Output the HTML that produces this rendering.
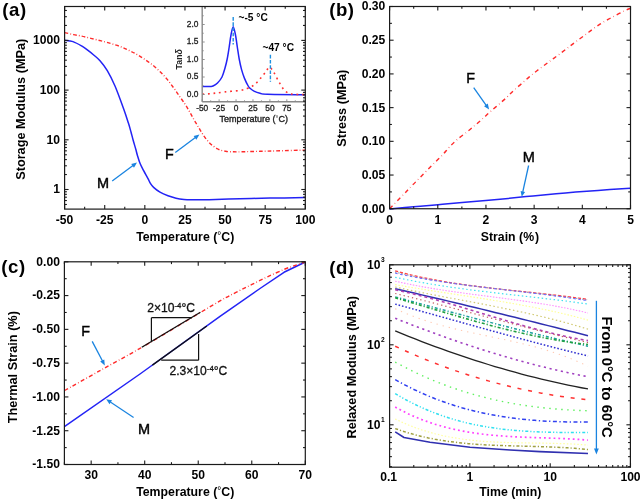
<!DOCTYPE html>
<html><head><meta charset="utf-8"><style>
html,body{margin:0;padding:0;background:#fff;}
svg{display:block;filter:blur(0.3px);}
text{font-family:"Liberation Sans",sans-serif;}
</style></head><body>
<svg width="641" height="500" viewBox="0 0 641 500">
<rect width="641" height="500" fill="#fff"/>
<path d="M64.60,40.20 C66.00,40.43 70.10,40.60 73.00,41.60 C75.90,42.60 79.50,44.73 82.00,46.20 C84.50,47.67 86.00,48.90 88.00,50.40 C90.00,51.90 92.00,53.47 94.00,55.20 C96.00,56.93 97.78,58.23 100.00,60.80 C102.22,63.37 104.80,66.40 107.30,70.60 C109.80,74.80 112.27,79.60 115.00,86.00 C117.73,92.40 121.47,102.82 123.70,109.00 C125.93,115.18 127.18,119.27 128.40,123.10 C129.62,126.93 130.22,129.18 131.00,132.00 C131.78,134.82 132.30,137.12 133.10,140.00 C133.90,142.88 135.10,146.80 135.80,149.30 C136.50,151.80 136.60,152.67 137.30,155.00 C138.00,157.33 138.97,160.73 140.00,163.30 C141.03,165.87 142.17,167.85 143.50,170.40 C144.83,172.95 146.85,176.43 148.00,178.60 C149.15,180.77 149.47,181.93 150.40,183.40 C151.33,184.87 152.00,185.93 153.60,187.40 C155.20,188.87 157.60,190.80 160.00,192.20 C162.40,193.60 165.33,194.80 168.00,195.80 C170.67,196.80 173.33,197.60 176.00,198.20 C178.67,198.80 181.33,199.15 184.00,199.40 C186.67,199.65 187.80,199.65 192.00,199.70 C196.20,199.75 201.20,199.87 209.20,199.70 C217.20,199.53 229.87,198.97 240.00,198.70 C250.13,198.43 259.12,198.28 270.00,198.10 C280.88,197.92 299.42,197.68 305.30,197.60" stroke="#2323f5" stroke-width="1.5" fill="none" stroke-linejoin="round" />
<path d="M64.60,32.60 C66.08,32.93 70.65,34.02 73.50,34.60 C76.35,35.18 79.07,35.53 81.70,36.10 C84.33,36.67 86.77,37.38 89.30,38.00 C91.83,38.62 94.27,39.15 96.90,39.80 C99.53,40.45 102.45,41.18 105.10,41.90 C107.75,42.62 110.15,43.28 112.80,44.10 C115.45,44.92 118.27,45.73 121.00,46.80 C123.73,47.87 126.57,49.23 129.20,50.50 C131.83,51.77 134.27,52.95 136.80,54.40 C139.33,55.85 141.80,57.47 144.40,59.20 C147.00,60.93 149.73,62.67 152.40,64.80 C155.07,66.93 157.93,69.57 160.40,72.00 C162.87,74.43 165.00,76.77 167.20,79.40 C169.40,82.03 171.60,85.07 173.60,87.80 C175.60,90.53 177.33,93.13 179.20,95.80 C181.07,98.47 183.10,101.20 184.80,103.80 C186.50,106.40 187.90,108.80 189.40,111.40 C190.90,114.00 192.27,116.73 193.80,119.40 C195.33,122.07 197.00,124.77 198.60,127.40 C200.20,130.03 201.53,132.57 203.40,135.20 C205.27,137.83 207.40,140.90 209.80,143.20 C212.20,145.50 215.17,147.65 217.80,149.00 C220.43,150.35 223.00,150.83 225.60,151.30 C228.20,151.77 230.80,151.72 233.40,151.80 C236.00,151.88 236.77,151.88 241.20,151.80 C245.63,151.72 253.53,151.47 260.00,151.30 C266.47,151.13 272.45,151.00 280.00,150.80 C287.55,150.60 301.08,150.22 305.30,150.10" stroke="#ff2a2a" stroke-width="1.4" fill="none" stroke-dasharray="3.7 2.1 0.8 2.1" stroke-linejoin="round" />
<rect x="202.20" y="6.50" width="103.10" height="95.30" fill="#fff"/>
<path d="M202.40,86.50 C203.67,86.48 208.23,86.48 210.00,86.40 C211.77,86.32 211.75,86.57 213.00,86.00 C214.25,85.43 216.00,84.50 217.50,83.00 C219.00,81.50 220.75,79.50 222.00,77.00 C223.25,74.50 224.13,71.00 225.00,68.00 C225.87,65.00 226.50,62.50 227.20,59.00 C227.90,55.50 228.57,51.00 229.20,47.00 C229.83,43.00 230.33,38.38 231.00,35.00 C231.67,31.62 232.45,26.70 233.20,26.70 C233.95,26.70 234.82,31.62 235.50,35.00 C236.18,38.38 236.68,43.00 237.30,47.00 C237.92,51.00 238.50,55.27 239.20,59.00 C239.90,62.73 240.62,66.17 241.50,69.40 C242.38,72.63 243.38,75.63 244.50,78.40 C245.62,81.17 247.28,84.37 248.20,86.00 C249.12,87.63 249.03,87.35 250.00,88.20 C250.97,89.05 252.33,90.25 254.00,91.10 C255.67,91.95 257.75,92.77 260.00,93.30 C262.25,93.83 259.95,94.05 267.50,94.30 C275.05,94.55 299.00,94.72 305.30,94.80" stroke="#2323f5" stroke-width="1.5" fill="none" stroke-linejoin="round" />
<path d="M202.40,94.30 C204.17,94.15 209.23,93.80 213.00,93.40 C216.77,93.00 220.50,92.40 225.00,91.90 C229.50,91.40 236.33,90.95 240.00,90.40 C243.67,89.85 245.10,89.23 247.00,88.60 C248.90,87.97 250.00,87.37 251.40,86.60 C252.80,85.83 253.83,85.43 255.40,84.00 C256.97,82.57 259.07,80.05 260.80,78.00 C262.53,75.95 264.37,73.50 265.80,71.70 C267.23,69.90 268.13,67.20 269.40,67.20 C270.67,67.20 272.13,69.83 273.40,71.70 C274.67,73.57 275.80,76.23 277.00,78.40 C278.20,80.57 279.40,82.75 280.60,84.70 C281.80,86.65 282.85,88.67 284.20,90.10 C285.55,91.53 287.05,92.60 288.70,93.30 C290.35,94.00 291.33,94.08 294.10,94.30 C296.87,94.52 303.43,94.55 305.30,94.60" stroke="#ff3030" stroke-width="1.6" fill="none" stroke-dasharray="1.8 3.8" stroke-linejoin="round" />
<line x1="233.20" y1="17.10" x2="233.20" y2="44.50" stroke="#1e90e0" stroke-width="1.4" stroke-dasharray="3.6 1.6"/>
<line x1="270.40" y1="54.80" x2="270.40" y2="81.80" stroke="#1e90e0" stroke-width="1.4" stroke-dasharray="3.6 1.6"/>
<line x1="202.20" y1="6.50" x2="202.20" y2="101.80" stroke="#888" stroke-width="1.4" />
<line x1="202.20" y1="101.80" x2="305.30" y2="101.80" stroke="#888" stroke-width="1.4" />
<line x1="202.20" y1="101.80" x2="202.20" y2="99.30" stroke="#888" stroke-width="0.9" />
<text x="202.20" y="111.20" font-size="8.4" font-weight="normal" text-anchor="middle" fill="#222" stroke="#222" stroke-width="0.3">-50</text>
<line x1="219.12" y1="101.80" x2="219.12" y2="99.30" stroke="#888" stroke-width="0.9" />
<text x="219.12" y="111.20" font-size="8.4" font-weight="normal" text-anchor="middle" fill="#222" stroke="#222" stroke-width="0.3">-25</text>
<line x1="236.05" y1="101.80" x2="236.05" y2="99.30" stroke="#888" stroke-width="0.9" />
<text x="236.05" y="111.20" font-size="8.4" font-weight="normal" text-anchor="middle" fill="#222" stroke="#222" stroke-width="0.3">0</text>
<line x1="252.97" y1="101.80" x2="252.97" y2="99.30" stroke="#888" stroke-width="0.9" />
<text x="252.97" y="111.20" font-size="8.4" font-weight="normal" text-anchor="middle" fill="#222" stroke="#222" stroke-width="0.3">25</text>
<line x1="269.90" y1="101.80" x2="269.90" y2="99.30" stroke="#888" stroke-width="0.9" />
<text x="269.90" y="111.20" font-size="8.4" font-weight="normal" text-anchor="middle" fill="#222" stroke="#222" stroke-width="0.3">50</text>
<line x1="286.82" y1="101.80" x2="286.82" y2="99.30" stroke="#888" stroke-width="0.9" />
<text x="286.82" y="111.20" font-size="8.4" font-weight="normal" text-anchor="middle" fill="#222" stroke="#222" stroke-width="0.3">75</text>
<line x1="303.75" y1="101.80" x2="303.75" y2="99.30" stroke="#888" stroke-width="0.9" />
<line x1="210.66" y1="101.80" x2="210.66" y2="100.30" stroke="#888" stroke-width="0.9" />
<line x1="227.59" y1="101.80" x2="227.59" y2="100.30" stroke="#888" stroke-width="0.9" />
<line x1="244.51" y1="101.80" x2="244.51" y2="100.30" stroke="#888" stroke-width="0.9" />
<line x1="261.44" y1="101.80" x2="261.44" y2="100.30" stroke="#888" stroke-width="0.9" />
<line x1="278.36" y1="101.80" x2="278.36" y2="100.30" stroke="#888" stroke-width="0.9" />
<line x1="295.29" y1="101.80" x2="295.29" y2="100.30" stroke="#888" stroke-width="0.9" />
<line x1="202.20" y1="94.50" x2="204.70" y2="94.50" stroke="#888" stroke-width="0.9" />
<text x="198.40" y="96.60" font-size="8.4" font-weight="normal" text-anchor="end" fill="#222" stroke="#222" stroke-width="0.3">0.0</text>
<line x1="202.20" y1="77.00" x2="204.70" y2="77.00" stroke="#888" stroke-width="0.9" />
<text x="198.40" y="79.10" font-size="8.4" font-weight="normal" text-anchor="end" fill="#222" stroke="#222" stroke-width="0.3">0.5</text>
<line x1="202.20" y1="59.50" x2="204.70" y2="59.50" stroke="#888" stroke-width="0.9" />
<text x="198.40" y="61.60" font-size="8.4" font-weight="normal" text-anchor="end" fill="#222" stroke="#222" stroke-width="0.3">1.0</text>
<line x1="202.20" y1="42.00" x2="204.70" y2="42.00" stroke="#888" stroke-width="0.9" />
<text x="198.40" y="44.10" font-size="8.4" font-weight="normal" text-anchor="end" fill="#222" stroke="#222" stroke-width="0.3">1.5</text>
<line x1="202.20" y1="24.50" x2="204.70" y2="24.50" stroke="#888" stroke-width="0.9" />
<text x="198.40" y="26.60" font-size="8.4" font-weight="normal" text-anchor="end" fill="#222" stroke="#222" stroke-width="0.3">2.0</text>
<line x1="202.20" y1="85.75" x2="203.70" y2="85.75" stroke="#888" stroke-width="0.9" />
<line x1="202.20" y1="68.25" x2="203.70" y2="68.25" stroke="#888" stroke-width="0.9" />
<line x1="202.20" y1="50.75" x2="203.70" y2="50.75" stroke="#888" stroke-width="0.9" />
<line x1="202.20" y1="33.25" x2="203.70" y2="33.25" stroke="#888" stroke-width="0.9" />
<line x1="202.20" y1="15.75" x2="203.70" y2="15.75" stroke="#888" stroke-width="0.9" />
<text x="253.80" y="122.00" font-size="9" font-weight="normal" text-anchor="middle" fill="#222" stroke="#222" stroke-width="0.35">Temperature (<tspan dy="-1.3" font-size="7.5" stroke-width="0">°</tspan><tspan dy="1.3">C)</tspan></text>
<text x="182.20" y="59.20" font-size="8.8" font-weight="bold" text-anchor="middle" fill="#222" transform="rotate(-90 182.20 59.20)" >Tan<tspan font-style="italic">δ</tspan></text>
<text x="238.50" y="20.80" font-size="10.2" font-weight="bold" text-anchor="start" fill="#000" >~-5 °C</text>
<text x="262.50" y="50.90" font-size="10.2" font-weight="bold" text-anchor="start" fill="#000" >~47 °C</text>
<rect x="64.60" y="6.50" width="240.70" height="202.60" stroke="#1a1a1a" stroke-width="1.2" fill="none"/>
<line x1="64.60" y1="209.10" x2="64.60" y2="205.10" stroke="#1a1a1a" stroke-width="1.1" />
<line x1="64.60" y1="6.50" x2="64.60" y2="10.50" stroke="#1a1a1a" stroke-width="1.1" />
<text x="64.60" y="223.70" font-size="12.1" font-weight="bold" text-anchor="middle" fill="#000" >-50</text>
<line x1="104.72" y1="209.10" x2="104.72" y2="205.10" stroke="#1a1a1a" stroke-width="1.1" />
<line x1="104.72" y1="6.50" x2="104.72" y2="10.50" stroke="#1a1a1a" stroke-width="1.1" />
<text x="104.72" y="223.70" font-size="12.1" font-weight="bold" text-anchor="middle" fill="#000" >-25</text>
<line x1="144.83" y1="209.10" x2="144.83" y2="205.10" stroke="#1a1a1a" stroke-width="1.1" />
<line x1="144.83" y1="6.50" x2="144.83" y2="10.50" stroke="#1a1a1a" stroke-width="1.1" />
<text x="144.83" y="223.70" font-size="12.1" font-weight="bold" text-anchor="middle" fill="#000" >0</text>
<line x1="184.95" y1="209.10" x2="184.95" y2="205.10" stroke="#1a1a1a" stroke-width="1.1" />
<line x1="184.95" y1="6.50" x2="184.95" y2="10.50" stroke="#1a1a1a" stroke-width="1.1" />
<text x="184.95" y="223.70" font-size="12.1" font-weight="bold" text-anchor="middle" fill="#000" >25</text>
<line x1="225.07" y1="209.10" x2="225.07" y2="205.10" stroke="#1a1a1a" stroke-width="1.1" />
<line x1="225.07" y1="6.50" x2="225.07" y2="10.50" stroke="#1a1a1a" stroke-width="1.1" />
<text x="225.07" y="223.70" font-size="12.1" font-weight="bold" text-anchor="middle" fill="#000" >50</text>
<line x1="265.18" y1="209.10" x2="265.18" y2="205.10" stroke="#1a1a1a" stroke-width="1.1" />
<line x1="265.18" y1="6.50" x2="265.18" y2="10.50" stroke="#1a1a1a" stroke-width="1.1" />
<text x="265.18" y="223.70" font-size="12.1" font-weight="bold" text-anchor="middle" fill="#000" >75</text>
<line x1="305.30" y1="209.10" x2="305.30" y2="205.10" stroke="#1a1a1a" stroke-width="1.1" />
<line x1="305.30" y1="6.50" x2="305.30" y2="10.50" stroke="#1a1a1a" stroke-width="1.1" />
<text x="305.30" y="223.70" font-size="12.1" font-weight="bold" text-anchor="middle" fill="#000" >100</text>
<line x1="84.66" y1="209.10" x2="84.66" y2="206.80" stroke="#1a1a1a" stroke-width="1.1" />
<line x1="84.66" y1="6.50" x2="84.66" y2="8.80" stroke="#1a1a1a" stroke-width="1.1" />
<line x1="124.77" y1="209.10" x2="124.77" y2="206.80" stroke="#1a1a1a" stroke-width="1.1" />
<line x1="124.77" y1="6.50" x2="124.77" y2="8.80" stroke="#1a1a1a" stroke-width="1.1" />
<line x1="164.89" y1="209.10" x2="164.89" y2="206.80" stroke="#1a1a1a" stroke-width="1.1" />
<line x1="164.89" y1="6.50" x2="164.89" y2="8.80" stroke="#1a1a1a" stroke-width="1.1" />
<line x1="205.01" y1="209.10" x2="205.01" y2="206.80" stroke="#1a1a1a" stroke-width="1.1" />
<line x1="205.01" y1="6.50" x2="205.01" y2="8.80" stroke="#1a1a1a" stroke-width="1.1" />
<line x1="245.13" y1="209.10" x2="245.13" y2="206.80" stroke="#1a1a1a" stroke-width="1.1" />
<line x1="245.13" y1="6.50" x2="245.13" y2="8.80" stroke="#1a1a1a" stroke-width="1.1" />
<line x1="285.24" y1="209.10" x2="285.24" y2="206.80" stroke="#1a1a1a" stroke-width="1.1" />
<line x1="285.24" y1="6.50" x2="285.24" y2="8.80" stroke="#1a1a1a" stroke-width="1.1" />
<line x1="64.60" y1="189.50" x2="68.60" y2="189.50" stroke="#1a1a1a" stroke-width="1.1" />
<line x1="305.30" y1="189.50" x2="301.30" y2="189.50" stroke="#1a1a1a" stroke-width="1.1" />
<text x="59.90" y="193.40" font-size="12.1" font-weight="bold" text-anchor="end" fill="#000" >1</text>
<line x1="64.60" y1="139.80" x2="68.60" y2="139.80" stroke="#1a1a1a" stroke-width="1.1" />
<line x1="305.30" y1="139.80" x2="301.30" y2="139.80" stroke="#1a1a1a" stroke-width="1.1" />
<text x="59.90" y="143.70" font-size="12.1" font-weight="bold" text-anchor="end" fill="#000" >10</text>
<line x1="64.60" y1="90.10" x2="68.60" y2="90.10" stroke="#1a1a1a" stroke-width="1.1" />
<line x1="305.30" y1="90.10" x2="301.30" y2="90.10" stroke="#1a1a1a" stroke-width="1.1" />
<text x="59.90" y="94.00" font-size="12.1" font-weight="bold" text-anchor="end" fill="#000" >100</text>
<line x1="64.60" y1="40.40" x2="68.60" y2="40.40" stroke="#1a1a1a" stroke-width="1.1" />
<line x1="305.30" y1="40.40" x2="301.30" y2="40.40" stroke="#1a1a1a" stroke-width="1.1" />
<text x="59.90" y="44.30" font-size="12.1" font-weight="bold" text-anchor="end" fill="#000" >1000</text>
<line x1="64.60" y1="204.46" x2="66.90" y2="204.46" stroke="#1a1a1a" stroke-width="1.1" />
<line x1="305.30" y1="204.46" x2="303.00" y2="204.46" stroke="#1a1a1a" stroke-width="1.1" />
<line x1="64.60" y1="200.53" x2="66.90" y2="200.53" stroke="#1a1a1a" stroke-width="1.1" />
<line x1="305.30" y1="200.53" x2="303.00" y2="200.53" stroke="#1a1a1a" stroke-width="1.1" />
<line x1="64.60" y1="197.20" x2="66.90" y2="197.20" stroke="#1a1a1a" stroke-width="1.1" />
<line x1="305.30" y1="197.20" x2="303.00" y2="197.20" stroke="#1a1a1a" stroke-width="1.1" />
<line x1="64.60" y1="194.32" x2="66.90" y2="194.32" stroke="#1a1a1a" stroke-width="1.1" />
<line x1="305.30" y1="194.32" x2="303.00" y2="194.32" stroke="#1a1a1a" stroke-width="1.1" />
<line x1="64.60" y1="191.77" x2="66.90" y2="191.77" stroke="#1a1a1a" stroke-width="1.1" />
<line x1="305.30" y1="191.77" x2="303.00" y2="191.77" stroke="#1a1a1a" stroke-width="1.1" />
<line x1="64.60" y1="174.54" x2="66.90" y2="174.54" stroke="#1a1a1a" stroke-width="1.1" />
<line x1="305.30" y1="174.54" x2="303.00" y2="174.54" stroke="#1a1a1a" stroke-width="1.1" />
<line x1="64.60" y1="165.79" x2="66.90" y2="165.79" stroke="#1a1a1a" stroke-width="1.1" />
<line x1="305.30" y1="165.79" x2="303.00" y2="165.79" stroke="#1a1a1a" stroke-width="1.1" />
<line x1="64.60" y1="159.58" x2="66.90" y2="159.58" stroke="#1a1a1a" stroke-width="1.1" />
<line x1="305.30" y1="159.58" x2="303.00" y2="159.58" stroke="#1a1a1a" stroke-width="1.1" />
<line x1="64.60" y1="154.76" x2="66.90" y2="154.76" stroke="#1a1a1a" stroke-width="1.1" />
<line x1="305.30" y1="154.76" x2="303.00" y2="154.76" stroke="#1a1a1a" stroke-width="1.1" />
<line x1="64.60" y1="150.83" x2="66.90" y2="150.83" stroke="#1a1a1a" stroke-width="1.1" />
<line x1="305.30" y1="150.83" x2="303.00" y2="150.83" stroke="#1a1a1a" stroke-width="1.1" />
<line x1="64.60" y1="147.50" x2="66.90" y2="147.50" stroke="#1a1a1a" stroke-width="1.1" />
<line x1="305.30" y1="147.50" x2="303.00" y2="147.50" stroke="#1a1a1a" stroke-width="1.1" />
<line x1="64.60" y1="144.62" x2="66.90" y2="144.62" stroke="#1a1a1a" stroke-width="1.1" />
<line x1="305.30" y1="144.62" x2="303.00" y2="144.62" stroke="#1a1a1a" stroke-width="1.1" />
<line x1="64.60" y1="142.07" x2="66.90" y2="142.07" stroke="#1a1a1a" stroke-width="1.1" />
<line x1="305.30" y1="142.07" x2="303.00" y2="142.07" stroke="#1a1a1a" stroke-width="1.1" />
<line x1="64.60" y1="124.84" x2="66.90" y2="124.84" stroke="#1a1a1a" stroke-width="1.1" />
<line x1="305.30" y1="124.84" x2="303.00" y2="124.84" stroke="#1a1a1a" stroke-width="1.1" />
<line x1="64.60" y1="116.09" x2="66.90" y2="116.09" stroke="#1a1a1a" stroke-width="1.1" />
<line x1="305.30" y1="116.09" x2="303.00" y2="116.09" stroke="#1a1a1a" stroke-width="1.1" />
<line x1="64.60" y1="109.88" x2="66.90" y2="109.88" stroke="#1a1a1a" stroke-width="1.1" />
<line x1="305.30" y1="109.88" x2="303.00" y2="109.88" stroke="#1a1a1a" stroke-width="1.1" />
<line x1="64.60" y1="105.06" x2="66.90" y2="105.06" stroke="#1a1a1a" stroke-width="1.1" />
<line x1="305.30" y1="105.06" x2="303.00" y2="105.06" stroke="#1a1a1a" stroke-width="1.1" />
<line x1="64.60" y1="101.13" x2="66.90" y2="101.13" stroke="#1a1a1a" stroke-width="1.1" />
<line x1="305.30" y1="101.13" x2="303.00" y2="101.13" stroke="#1a1a1a" stroke-width="1.1" />
<line x1="64.60" y1="97.80" x2="66.90" y2="97.80" stroke="#1a1a1a" stroke-width="1.1" />
<line x1="305.30" y1="97.80" x2="303.00" y2="97.80" stroke="#1a1a1a" stroke-width="1.1" />
<line x1="64.60" y1="94.92" x2="66.90" y2="94.92" stroke="#1a1a1a" stroke-width="1.1" />
<line x1="305.30" y1="94.92" x2="303.00" y2="94.92" stroke="#1a1a1a" stroke-width="1.1" />
<line x1="64.60" y1="92.37" x2="66.90" y2="92.37" stroke="#1a1a1a" stroke-width="1.1" />
<line x1="305.30" y1="92.37" x2="303.00" y2="92.37" stroke="#1a1a1a" stroke-width="1.1" />
<line x1="64.60" y1="75.14" x2="66.90" y2="75.14" stroke="#1a1a1a" stroke-width="1.1" />
<line x1="305.30" y1="75.14" x2="303.00" y2="75.14" stroke="#1a1a1a" stroke-width="1.1" />
<line x1="64.60" y1="66.39" x2="66.90" y2="66.39" stroke="#1a1a1a" stroke-width="1.1" />
<line x1="305.30" y1="66.39" x2="303.00" y2="66.39" stroke="#1a1a1a" stroke-width="1.1" />
<line x1="64.60" y1="60.18" x2="66.90" y2="60.18" stroke="#1a1a1a" stroke-width="1.1" />
<line x1="305.30" y1="60.18" x2="303.00" y2="60.18" stroke="#1a1a1a" stroke-width="1.1" />
<line x1="64.60" y1="55.36" x2="66.90" y2="55.36" stroke="#1a1a1a" stroke-width="1.1" />
<line x1="305.30" y1="55.36" x2="303.00" y2="55.36" stroke="#1a1a1a" stroke-width="1.1" />
<line x1="64.60" y1="51.43" x2="66.90" y2="51.43" stroke="#1a1a1a" stroke-width="1.1" />
<line x1="305.30" y1="51.43" x2="303.00" y2="51.43" stroke="#1a1a1a" stroke-width="1.1" />
<line x1="64.60" y1="48.10" x2="66.90" y2="48.10" stroke="#1a1a1a" stroke-width="1.1" />
<line x1="305.30" y1="48.10" x2="303.00" y2="48.10" stroke="#1a1a1a" stroke-width="1.1" />
<line x1="64.60" y1="45.22" x2="66.90" y2="45.22" stroke="#1a1a1a" stroke-width="1.1" />
<line x1="305.30" y1="45.22" x2="303.00" y2="45.22" stroke="#1a1a1a" stroke-width="1.1" />
<line x1="64.60" y1="42.67" x2="66.90" y2="42.67" stroke="#1a1a1a" stroke-width="1.1" />
<line x1="305.30" y1="42.67" x2="303.00" y2="42.67" stroke="#1a1a1a" stroke-width="1.1" />
<line x1="64.60" y1="25.44" x2="66.90" y2="25.44" stroke="#1a1a1a" stroke-width="1.1" />
<line x1="305.30" y1="25.44" x2="303.00" y2="25.44" stroke="#1a1a1a" stroke-width="1.1" />
<line x1="64.60" y1="16.69" x2="66.90" y2="16.69" stroke="#1a1a1a" stroke-width="1.1" />
<line x1="305.30" y1="16.69" x2="303.00" y2="16.69" stroke="#1a1a1a" stroke-width="1.1" />
<line x1="64.60" y1="10.48" x2="66.90" y2="10.48" stroke="#1a1a1a" stroke-width="1.1" />
<line x1="305.30" y1="10.48" x2="303.00" y2="10.48" stroke="#1a1a1a" stroke-width="1.1" />
<text x="185.20" y="241.20" font-size="12.3" font-weight="bold" text-anchor="middle" fill="#000" >Temperature (<tspan dy="-1.8" font-size="10" font-weight="normal">°</tspan><tspan dy="1.8">C)</tspan></text>
<text x="24.90" y="109.30" font-size="12.7" font-weight="bold" text-anchor="middle" fill="#000" transform="rotate(-90 24.90 109.30)" >Storage Modulus (MPa)</text>
<text x="2.30" y="16.00" font-size="18.6" font-weight="bold" text-anchor="start" fill="#000" letter-spacing="0.55">(a)</text>
<line x1="112.20" y1="181.10" x2="132.99" y2="165.59" stroke="#1a84e0" stroke-width="1.3" />
<path d="M137.00,162.60 L133.97,167.73 L131.22,164.05 Z" fill="#1a84e0"/>
<line x1="175.30" y1="152.60" x2="195.40" y2="137.50" stroke="#1a84e0" stroke-width="1.3" />
<path d="M199.40,134.50 L196.38,139.64 L193.62,135.96 Z" fill="#1a84e0"/>
<text x="103.10" y="187.60" font-size="14.5" font-weight="normal" text-anchor="middle" fill="#000" stroke="#000" stroke-width="0.42">M</text>
<text x="169.30" y="159.00" font-size="14.3" font-weight="normal" text-anchor="middle" fill="#000" stroke="#000" stroke-width="0.42">F</text>
<path d="M389.60,208.80 C392.00,206.33 400.30,197.83 404.00,194.00 C407.70,190.17 409.20,188.47 411.80,185.80 C414.40,183.13 417.00,180.63 419.60,178.00 C422.20,175.37 424.80,172.63 427.40,170.00 C430.00,167.37 432.60,164.80 435.20,162.20 C437.80,159.60 440.53,157.03 443.00,154.40 C445.47,151.77 447.57,148.93 450.00,146.40 C452.43,143.87 454.70,141.67 457.60,139.20 C460.50,136.73 464.48,133.93 467.40,131.60 C470.32,129.27 472.53,127.37 475.10,125.20 C477.67,123.03 480.35,120.78 482.80,118.60 C485.25,116.42 487.23,114.38 489.80,112.10 C492.37,109.82 495.40,107.33 498.20,104.90 C501.00,102.47 504.05,99.88 506.60,97.50 C509.15,95.12 510.95,92.95 513.50,90.60 C516.05,88.25 519.22,85.73 521.90,83.40 C524.58,81.07 527.03,78.75 529.60,76.60 C532.17,74.45 534.62,72.55 537.30,70.50 C539.98,68.45 543.02,66.28 545.70,64.30 C548.38,62.32 550.72,60.58 553.40,58.60 C556.08,56.62 559.12,54.42 561.80,52.40 C564.48,50.38 566.95,48.43 569.50,46.50 C572.05,44.57 574.48,42.73 577.10,40.80 C579.72,38.87 582.58,36.85 585.20,34.90 C587.82,32.95 590.27,30.93 592.80,29.10 C595.33,27.27 597.78,25.55 600.40,23.90 C603.02,22.25 605.78,20.72 608.50,19.20 C611.22,17.68 613.98,16.22 616.70,14.80 C619.42,13.38 622.55,11.77 624.80,10.70 C627.05,9.63 629.30,8.78 630.20,8.40" stroke="#ff2a2a" stroke-width="1.4" fill="none" stroke-dasharray="4.2 3.2 0.5 3.2" stroke-linejoin="round" />
<path d="M389.60,209.00 C393.60,208.63 405.53,207.52 413.60,206.80 C421.67,206.08 429.43,205.45 438.00,204.70 C446.57,203.95 454.67,203.20 465.00,202.30 C475.33,201.40 488.67,200.37 500.00,199.30 C511.33,198.23 522.08,196.97 533.00,195.90 C543.92,194.83 554.67,193.82 565.50,192.90 C576.33,191.98 587.22,191.17 598.00,190.40 C608.78,189.63 624.83,188.65 630.20,188.30" stroke="#2323f5" stroke-width="1.5" fill="none" stroke-linejoin="round" />
<rect x="389.60" y="6.50" width="240.90" height="202.25" stroke="#1a1a1a" stroke-width="1.2" fill="none"/>
<line x1="389.60" y1="208.75" x2="389.60" y2="204.75" stroke="#1a1a1a" stroke-width="1.1" />
<line x1="389.60" y1="6.50" x2="389.60" y2="10.50" stroke="#1a1a1a" stroke-width="1.1" />
<text x="389.60" y="223.70" font-size="12.1" font-weight="bold" text-anchor="middle" fill="#000" >0</text>
<line x1="437.78" y1="208.75" x2="437.78" y2="204.75" stroke="#1a1a1a" stroke-width="1.1" />
<line x1="437.78" y1="6.50" x2="437.78" y2="10.50" stroke="#1a1a1a" stroke-width="1.1" />
<text x="437.78" y="223.70" font-size="12.1" font-weight="bold" text-anchor="middle" fill="#000" >1</text>
<line x1="485.96" y1="208.75" x2="485.96" y2="204.75" stroke="#1a1a1a" stroke-width="1.1" />
<line x1="485.96" y1="6.50" x2="485.96" y2="10.50" stroke="#1a1a1a" stroke-width="1.1" />
<text x="485.96" y="223.70" font-size="12.1" font-weight="bold" text-anchor="middle" fill="#000" >2</text>
<line x1="534.14" y1="208.75" x2="534.14" y2="204.75" stroke="#1a1a1a" stroke-width="1.1" />
<line x1="534.14" y1="6.50" x2="534.14" y2="10.50" stroke="#1a1a1a" stroke-width="1.1" />
<text x="534.14" y="223.70" font-size="12.1" font-weight="bold" text-anchor="middle" fill="#000" >3</text>
<line x1="582.32" y1="208.75" x2="582.32" y2="204.75" stroke="#1a1a1a" stroke-width="1.1" />
<line x1="582.32" y1="6.50" x2="582.32" y2="10.50" stroke="#1a1a1a" stroke-width="1.1" />
<text x="582.32" y="223.70" font-size="12.1" font-weight="bold" text-anchor="middle" fill="#000" >4</text>
<line x1="630.50" y1="208.75" x2="630.50" y2="204.75" stroke="#1a1a1a" stroke-width="1.1" />
<line x1="630.50" y1="6.50" x2="630.50" y2="10.50" stroke="#1a1a1a" stroke-width="1.1" />
<text x="630.50" y="223.70" font-size="12.1" font-weight="bold" text-anchor="middle" fill="#000" >5</text>
<line x1="413.69" y1="208.75" x2="413.69" y2="206.45" stroke="#1a1a1a" stroke-width="1.1" />
<line x1="413.69" y1="6.50" x2="413.69" y2="8.80" stroke="#1a1a1a" stroke-width="1.1" />
<line x1="461.87" y1="208.75" x2="461.87" y2="206.45" stroke="#1a1a1a" stroke-width="1.1" />
<line x1="461.87" y1="6.50" x2="461.87" y2="8.80" stroke="#1a1a1a" stroke-width="1.1" />
<line x1="510.05" y1="208.75" x2="510.05" y2="206.45" stroke="#1a1a1a" stroke-width="1.1" />
<line x1="510.05" y1="6.50" x2="510.05" y2="8.80" stroke="#1a1a1a" stroke-width="1.1" />
<line x1="558.23" y1="208.75" x2="558.23" y2="206.45" stroke="#1a1a1a" stroke-width="1.1" />
<line x1="558.23" y1="6.50" x2="558.23" y2="8.80" stroke="#1a1a1a" stroke-width="1.1" />
<line x1="606.41" y1="208.75" x2="606.41" y2="206.45" stroke="#1a1a1a" stroke-width="1.1" />
<line x1="606.41" y1="6.50" x2="606.41" y2="8.80" stroke="#1a1a1a" stroke-width="1.1" />
<line x1="389.60" y1="208.75" x2="393.60" y2="208.75" stroke="#1a1a1a" stroke-width="1.1" />
<line x1="630.50" y1="208.75" x2="626.50" y2="208.75" stroke="#1a1a1a" stroke-width="1.1" />
<text x="385.30" y="212.65" font-size="12.1" font-weight="bold" text-anchor="end" fill="#000" >0.00</text>
<line x1="389.60" y1="175.04" x2="393.60" y2="175.04" stroke="#1a1a1a" stroke-width="1.1" />
<line x1="630.50" y1="175.04" x2="626.50" y2="175.04" stroke="#1a1a1a" stroke-width="1.1" />
<text x="385.30" y="178.94" font-size="12.1" font-weight="bold" text-anchor="end" fill="#000" >0.05</text>
<line x1="389.60" y1="141.33" x2="393.60" y2="141.33" stroke="#1a1a1a" stroke-width="1.1" />
<line x1="630.50" y1="141.33" x2="626.50" y2="141.33" stroke="#1a1a1a" stroke-width="1.1" />
<text x="385.30" y="145.23" font-size="12.1" font-weight="bold" text-anchor="end" fill="#000" >0.10</text>
<line x1="389.60" y1="107.63" x2="393.60" y2="107.63" stroke="#1a1a1a" stroke-width="1.1" />
<line x1="630.50" y1="107.63" x2="626.50" y2="107.63" stroke="#1a1a1a" stroke-width="1.1" />
<text x="385.30" y="111.53" font-size="12.1" font-weight="bold" text-anchor="end" fill="#000" >0.15</text>
<line x1="389.60" y1="73.92" x2="393.60" y2="73.92" stroke="#1a1a1a" stroke-width="1.1" />
<line x1="630.50" y1="73.92" x2="626.50" y2="73.92" stroke="#1a1a1a" stroke-width="1.1" />
<text x="385.30" y="77.82" font-size="12.1" font-weight="bold" text-anchor="end" fill="#000" >0.20</text>
<line x1="389.60" y1="40.21" x2="393.60" y2="40.21" stroke="#1a1a1a" stroke-width="1.1" />
<line x1="630.50" y1="40.21" x2="626.50" y2="40.21" stroke="#1a1a1a" stroke-width="1.1" />
<text x="385.30" y="44.11" font-size="12.1" font-weight="bold" text-anchor="end" fill="#000" >0.25</text>
<line x1="389.60" y1="6.50" x2="393.60" y2="6.50" stroke="#1a1a1a" stroke-width="1.1" />
<line x1="630.50" y1="6.50" x2="626.50" y2="6.50" stroke="#1a1a1a" stroke-width="1.1" />
<text x="385.30" y="10.40" font-size="12.1" font-weight="bold" text-anchor="end" fill="#000" >0.30</text>
<line x1="389.60" y1="191.90" x2="391.90" y2="191.90" stroke="#1a1a1a" stroke-width="1.1" />
<line x1="630.50" y1="191.90" x2="628.20" y2="191.90" stroke="#1a1a1a" stroke-width="1.1" />
<line x1="389.60" y1="158.19" x2="391.90" y2="158.19" stroke="#1a1a1a" stroke-width="1.1" />
<line x1="630.50" y1="158.19" x2="628.20" y2="158.19" stroke="#1a1a1a" stroke-width="1.1" />
<line x1="389.60" y1="124.48" x2="391.90" y2="124.48" stroke="#1a1a1a" stroke-width="1.1" />
<line x1="630.50" y1="124.48" x2="628.20" y2="124.48" stroke="#1a1a1a" stroke-width="1.1" />
<line x1="389.60" y1="90.77" x2="391.90" y2="90.77" stroke="#1a1a1a" stroke-width="1.1" />
<line x1="630.50" y1="90.77" x2="628.20" y2="90.77" stroke="#1a1a1a" stroke-width="1.1" />
<line x1="389.60" y1="57.06" x2="391.90" y2="57.06" stroke="#1a1a1a" stroke-width="1.1" />
<line x1="630.50" y1="57.06" x2="628.20" y2="57.06" stroke="#1a1a1a" stroke-width="1.1" />
<line x1="389.60" y1="23.35" x2="391.90" y2="23.35" stroke="#1a1a1a" stroke-width="1.1" />
<line x1="630.50" y1="23.35" x2="628.20" y2="23.35" stroke="#1a1a1a" stroke-width="1.1" />
<text x="510.00" y="241.20" font-size="12.3" font-weight="bold" text-anchor="middle" fill="#000" >Strain (%&#8202;)</text>
<text x="346.00" y="108.20" font-size="12.7" font-weight="bold" text-anchor="middle" fill="#000" transform="rotate(-90 346.00 108.20)" >Stress (MPa)</text>
<text x="329.20" y="16.00" font-size="18.6" font-weight="bold" text-anchor="start" fill="#000" letter-spacing="0.55">(b)</text>
<line x1="473.70" y1="87.70" x2="486.21" y2="105.32" stroke="#1a84e0" stroke-width="1.3" />
<path d="M489.10,109.40 L484.04,106.25 L487.79,103.58 Z" fill="#1a84e0"/>
<line x1="528.60" y1="165.50" x2="522.78" y2="191.92" stroke="#1a84e0" stroke-width="1.3" />
<path d="M521.70,196.80 L520.64,190.93 L525.13,191.92 Z" fill="#1a84e0"/>
<text x="470.50" y="83.30" font-size="14.3" font-weight="normal" text-anchor="middle" fill="#000" stroke="#000" stroke-width="0.42">F</text>
<text x="528.70" y="161.80" font-size="14.5" font-weight="normal" text-anchor="middle" fill="#000" stroke="#000" stroke-width="0.42">M</text>
<path d="M64.40,426.70 L140.00,374.00 L220.00,316.40 L260.00,288.50 L284.00,272.30 L305.30,262.00" stroke="#2323f5" stroke-width="1.5" fill="none" stroke-linejoin="round" />
<path d="M64.60,390.50 C70.50,387.18 87.43,377.62 100.00,370.60 C112.57,363.58 126.67,356.05 140.00,348.40 C153.33,340.75 166.67,332.62 180.00,324.70 C193.33,316.78 210.67,306.28 220.00,300.90 C229.33,295.52 230.67,295.15 236.00,292.40 C241.33,289.65 246.67,287.03 252.00,284.40 C257.33,281.77 262.67,279.10 268.00,276.60 C273.33,274.10 279.47,271.27 284.00,269.40 C288.53,267.53 291.65,266.63 295.20,265.40 C298.75,264.17 303.62,262.57 305.30,262.00" stroke="#ff2a2a" stroke-width="1.4" fill="none" stroke-dasharray="4 2.3 0.7 2.3" stroke-linejoin="round" />
<line x1="151.40" y1="317.70" x2="151.40" y2="341.50" stroke="#111" stroke-width="1.2" />
<line x1="151.40" y1="317.70" x2="192.00" y2="317.70" stroke="#111" stroke-width="1.2" />
<line x1="141.80" y1="347.30" x2="200.40" y2="312.20" stroke="#111" stroke-width="1.3" />
<line x1="161.20" y1="360.20" x2="198.60" y2="360.20" stroke="#111" stroke-width="1.2" />
<line x1="198.60" y1="334.00" x2="198.60" y2="360.20" stroke="#111" stroke-width="1.2" />
<line x1="152.40" y1="365.10" x2="206.80" y2="326.00" stroke="#111" stroke-width="1.3" />
<text x="147.20" y="311.70" font-size="12.1" font-weight="normal" text-anchor="start" fill="#111" stroke="#111" stroke-width="0.3">2×10<tspan dy="-3.3" font-size="7.8">-4</tspan><tspan dy="3.3">°C</tspan></text>
<text x="169.50" y="374.70" font-size="12.1" font-weight="normal" text-anchor="start" fill="#111" stroke="#111" stroke-width="0.3">2.3×10<tspan dy="-3.3" font-size="7.8">-4</tspan><tspan dy="3.3">°C</tspan></text>
<rect x="64.40" y="261.80" width="240.90" height="202.70" stroke="#1a1a1a" stroke-width="1.2" fill="none"/>
<line x1="91.17" y1="464.50" x2="91.17" y2="460.50" stroke="#1a1a1a" stroke-width="1.1" />
<line x1="91.17" y1="261.80" x2="91.17" y2="265.80" stroke="#1a1a1a" stroke-width="1.1" />
<text x="91.17" y="479.10" font-size="12.1" font-weight="bold" text-anchor="middle" fill="#000" >30</text>
<line x1="144.70" y1="464.50" x2="144.70" y2="460.50" stroke="#1a1a1a" stroke-width="1.1" />
<line x1="144.70" y1="261.80" x2="144.70" y2="265.80" stroke="#1a1a1a" stroke-width="1.1" />
<text x="144.70" y="479.10" font-size="12.1" font-weight="bold" text-anchor="middle" fill="#000" >40</text>
<line x1="198.23" y1="464.50" x2="198.23" y2="460.50" stroke="#1a1a1a" stroke-width="1.1" />
<line x1="198.23" y1="261.80" x2="198.23" y2="265.80" stroke="#1a1a1a" stroke-width="1.1" />
<text x="198.23" y="479.10" font-size="12.1" font-weight="bold" text-anchor="middle" fill="#000" >50</text>
<line x1="251.77" y1="464.50" x2="251.77" y2="460.50" stroke="#1a1a1a" stroke-width="1.1" />
<line x1="251.77" y1="261.80" x2="251.77" y2="265.80" stroke="#1a1a1a" stroke-width="1.1" />
<text x="251.77" y="479.10" font-size="12.1" font-weight="bold" text-anchor="middle" fill="#000" >60</text>
<line x1="305.30" y1="464.50" x2="305.30" y2="460.50" stroke="#1a1a1a" stroke-width="1.1" />
<line x1="305.30" y1="261.80" x2="305.30" y2="265.80" stroke="#1a1a1a" stroke-width="1.1" />
<text x="305.30" y="479.10" font-size="12.1" font-weight="bold" text-anchor="middle" fill="#000" >70</text>
<line x1="64.40" y1="464.50" x2="64.40" y2="462.20" stroke="#1a1a1a" stroke-width="1.1" />
<line x1="64.40" y1="261.80" x2="64.40" y2="264.10" stroke="#1a1a1a" stroke-width="1.1" />
<line x1="117.93" y1="464.50" x2="117.93" y2="462.20" stroke="#1a1a1a" stroke-width="1.1" />
<line x1="117.93" y1="261.80" x2="117.93" y2="264.10" stroke="#1a1a1a" stroke-width="1.1" />
<line x1="171.47" y1="464.50" x2="171.47" y2="462.20" stroke="#1a1a1a" stroke-width="1.1" />
<line x1="171.47" y1="261.80" x2="171.47" y2="264.10" stroke="#1a1a1a" stroke-width="1.1" />
<line x1="225.00" y1="464.50" x2="225.00" y2="462.20" stroke="#1a1a1a" stroke-width="1.1" />
<line x1="225.00" y1="261.80" x2="225.00" y2="264.10" stroke="#1a1a1a" stroke-width="1.1" />
<line x1="278.53" y1="464.50" x2="278.53" y2="462.20" stroke="#1a1a1a" stroke-width="1.1" />
<line x1="278.53" y1="261.80" x2="278.53" y2="264.10" stroke="#1a1a1a" stroke-width="1.1" />
<line x1="64.40" y1="261.80" x2="68.40" y2="261.80" stroke="#1a1a1a" stroke-width="1.1" />
<line x1="305.30" y1="261.80" x2="301.30" y2="261.80" stroke="#1a1a1a" stroke-width="1.1" />
<text x="59.90" y="265.70" font-size="12.1" font-weight="bold" text-anchor="end" fill="#000" >0.00</text>
<line x1="64.40" y1="295.58" x2="68.40" y2="295.58" stroke="#1a1a1a" stroke-width="1.1" />
<line x1="305.30" y1="295.58" x2="301.30" y2="295.58" stroke="#1a1a1a" stroke-width="1.1" />
<text x="59.90" y="299.48" font-size="12.1" font-weight="bold" text-anchor="end" fill="#000" >-0.25</text>
<line x1="64.40" y1="329.37" x2="68.40" y2="329.37" stroke="#1a1a1a" stroke-width="1.1" />
<line x1="305.30" y1="329.37" x2="301.30" y2="329.37" stroke="#1a1a1a" stroke-width="1.1" />
<text x="59.90" y="333.27" font-size="12.1" font-weight="bold" text-anchor="end" fill="#000" >-0.50</text>
<line x1="64.40" y1="363.15" x2="68.40" y2="363.15" stroke="#1a1a1a" stroke-width="1.1" />
<line x1="305.30" y1="363.15" x2="301.30" y2="363.15" stroke="#1a1a1a" stroke-width="1.1" />
<text x="59.90" y="367.05" font-size="12.1" font-weight="bold" text-anchor="end" fill="#000" >-0.75</text>
<line x1="64.40" y1="396.93" x2="68.40" y2="396.93" stroke="#1a1a1a" stroke-width="1.1" />
<line x1="305.30" y1="396.93" x2="301.30" y2="396.93" stroke="#1a1a1a" stroke-width="1.1" />
<text x="59.90" y="400.83" font-size="12.1" font-weight="bold" text-anchor="end" fill="#000" >-1.00</text>
<line x1="64.40" y1="430.72" x2="68.40" y2="430.72" stroke="#1a1a1a" stroke-width="1.1" />
<line x1="305.30" y1="430.72" x2="301.30" y2="430.72" stroke="#1a1a1a" stroke-width="1.1" />
<text x="59.90" y="434.62" font-size="12.1" font-weight="bold" text-anchor="end" fill="#000" >-1.25</text>
<line x1="64.40" y1="464.50" x2="68.40" y2="464.50" stroke="#1a1a1a" stroke-width="1.1" />
<line x1="305.30" y1="464.50" x2="301.30" y2="464.50" stroke="#1a1a1a" stroke-width="1.1" />
<text x="59.90" y="468.40" font-size="12.1" font-weight="bold" text-anchor="end" fill="#000" >-1.50</text>
<line x1="64.40" y1="278.69" x2="66.70" y2="278.69" stroke="#1a1a1a" stroke-width="1.1" />
<line x1="305.30" y1="278.69" x2="303.00" y2="278.69" stroke="#1a1a1a" stroke-width="1.1" />
<line x1="64.40" y1="312.48" x2="66.70" y2="312.48" stroke="#1a1a1a" stroke-width="1.1" />
<line x1="305.30" y1="312.48" x2="303.00" y2="312.48" stroke="#1a1a1a" stroke-width="1.1" />
<line x1="64.40" y1="346.26" x2="66.70" y2="346.26" stroke="#1a1a1a" stroke-width="1.1" />
<line x1="305.30" y1="346.26" x2="303.00" y2="346.26" stroke="#1a1a1a" stroke-width="1.1" />
<line x1="64.40" y1="380.04" x2="66.70" y2="380.04" stroke="#1a1a1a" stroke-width="1.1" />
<line x1="305.30" y1="380.04" x2="303.00" y2="380.04" stroke="#1a1a1a" stroke-width="1.1" />
<line x1="64.40" y1="413.83" x2="66.70" y2="413.83" stroke="#1a1a1a" stroke-width="1.1" />
<line x1="305.30" y1="413.83" x2="303.00" y2="413.83" stroke="#1a1a1a" stroke-width="1.1" />
<line x1="64.40" y1="447.61" x2="66.70" y2="447.61" stroke="#1a1a1a" stroke-width="1.1" />
<line x1="305.30" y1="447.61" x2="303.00" y2="447.61" stroke="#1a1a1a" stroke-width="1.1" />
<text x="185.20" y="496.00" font-size="12.3" font-weight="bold" text-anchor="middle" fill="#000" >Temperature (<tspan dy="-1.8" font-size="10" font-weight="normal">°</tspan><tspan dy="1.8">C)</tspan></text>
<text x="16.80" y="367.20" font-size="12.7" font-weight="bold" text-anchor="middle" fill="#000" transform="rotate(-90 16.80 367.20)" >Thermal Strain (%)</text>
<text x="1.30" y="273.00" font-size="18.6" font-weight="bold" text-anchor="start" fill="#000" letter-spacing="0.55">(c)</text>
<line x1="92.20" y1="341.40" x2="102.48" y2="360.97" stroke="#1a84e0" stroke-width="1.3" />
<path d="M104.80,365.40 L100.21,361.60 L104.28,359.46 Z" fill="#1a84e0"/>
<line x1="133.60" y1="417.50" x2="110.36" y2="401.98" stroke="#1a84e0" stroke-width="1.3" />
<path d="M106.20,399.20 L112.05,400.34 L109.50,404.17 Z" fill="#1a84e0"/>
<text x="85.70" y="336.30" font-size="14.3" font-weight="normal" text-anchor="middle" fill="#000" stroke="#000" stroke-width="0.42">F</text>
<text x="144.10" y="433.80" font-size="14.5" font-weight="normal" text-anchor="middle" fill="#000" stroke="#000" stroke-width="0.42">M</text>
<path d="M395.20,272.05 L401.85,273.65 L408.50,275.16 L415.14,276.58 L421.79,277.92 L428.44,279.17 L435.09,280.36 L441.74,281.47 L448.39,282.53 L455.03,283.53 L461.68,284.47 L468.33,285.38 L474.98,286.24 L481.63,287.06 L488.28,287.86 L494.92,288.63 L501.57,289.39 L508.22,290.13 L514.87,290.87 L521.52,291.60 L528.17,292.34 L534.81,293.08 L541.46,293.84 L548.11,294.62 L554.76,295.43 L561.41,296.27 L568.06,297.14 L574.70,298.05 L581.35,299.02 L588.00,300.03" stroke="#9a9aa8" stroke-width="1.2" fill="none" stroke-dasharray="1.3 1.8" stroke-linejoin="round" stroke-linecap="butt"/>
<path d="M395.20,270.88 L401.85,272.65 L408.50,274.32 L415.14,275.87 L421.79,277.33 L428.44,278.69 L435.09,279.96 L441.74,281.16 L448.39,282.27 L455.03,283.32 L461.68,284.31 L468.33,285.24 L474.98,286.12 L481.63,286.96 L488.28,287.76 L494.92,288.52 L501.57,289.27 L508.22,289.99 L514.87,290.70 L521.52,291.40 L528.17,292.11 L534.81,292.82 L541.46,293.54 L548.11,294.28 L554.76,295.04 L561.41,295.84 L568.06,296.67 L574.70,297.55 L581.35,298.48 L588.00,299.46" stroke="#ff4040" stroke-width="1.2" fill="none" stroke-dasharray="3 2" stroke-linejoin="round" stroke-linecap="butt"/>
<path d="M395.20,273.20 L401.85,274.63 L408.50,275.98 L415.14,277.25 L421.79,278.46 L428.44,279.60 L435.09,280.69 L441.74,281.72 L448.39,282.71 L455.03,283.65 L461.68,284.56 L468.33,285.43 L474.98,286.27 L481.63,287.09 L488.28,287.88 L494.92,288.67 L501.57,289.44 L508.22,290.21 L514.87,290.98 L521.52,291.75 L528.17,292.54 L534.81,293.33 L541.46,294.15 L548.11,294.99 L554.76,295.86 L561.41,296.76 L568.06,297.70 L574.70,298.69 L581.35,299.72 L588.00,300.80" stroke="#7070ff" stroke-width="1.2" fill="none" stroke-dasharray="2.5 2.5" stroke-linejoin="round" stroke-linecap="butt"/>
<path d="M395.20,277.31 L401.85,278.71 L408.50,280.04 L415.14,281.31 L421.79,282.52 L428.44,283.67 L435.09,284.76 L441.74,285.80 L448.39,286.80 L455.03,287.76 L461.68,288.67 L468.33,289.56 L474.98,290.41 L481.63,291.23 L488.28,292.04 L494.92,292.82 L501.57,293.59 L508.22,294.35 L514.87,295.10 L521.52,295.85 L528.17,296.60 L534.81,297.36 L541.46,298.12 L548.11,298.90 L554.76,299.69 L561.41,300.51 L568.06,301.35 L574.70,302.21 L581.35,303.12 L588.00,304.05" stroke="#40e0f0" stroke-width="1.2" fill="none" stroke-dasharray="1.5 2.5" stroke-linejoin="round" stroke-linecap="butt"/>
<path d="M395.20,281.17 L401.85,282.65 L408.50,284.05 L415.14,285.36 L421.79,286.60 L428.44,287.77 L435.09,288.88 L441.74,289.93 L448.39,290.93 L455.03,291.90 L461.68,292.83 L468.33,293.73 L474.98,294.61 L481.63,295.47 L488.28,296.33 L494.92,297.19 L501.57,298.05 L508.22,298.93 L514.87,299.83 L521.52,300.75 L528.17,301.71 L534.81,302.71 L541.46,303.76 L548.11,304.85 L554.76,306.01 L561.41,307.24 L568.06,308.54 L574.70,309.93 L581.35,311.40 L588.00,312.97" stroke="#ff90ff" stroke-width="1.1" fill="none" stroke-dasharray="1.5 1.5" stroke-linejoin="round" stroke-linecap="butt"/>
<path d="M395.20,284.64 L401.85,285.82 L408.50,286.97 L415.14,288.08 L421.79,289.16 L428.44,290.22 L435.09,291.26 L441.74,292.29 L448.39,293.31 L455.03,294.31 L461.68,295.32 L468.33,296.33 L474.98,297.35 L481.63,298.38 L488.28,299.43 L494.92,300.50 L501.57,301.59 L508.22,302.71 L514.87,303.87 L521.52,305.07 L528.17,306.31 L534.81,307.59 L541.46,308.93 L548.11,310.33 L554.76,311.78 L561.41,313.31 L568.06,314.90 L574.70,316.56 L581.35,318.31 L588.00,320.14" stroke="#ffff90" stroke-width="1.1" fill="none" stroke-dasharray="1.5 1.8" stroke-linejoin="round" stroke-linecap="butt"/>
<path d="M395.20,287.01 L401.85,288.45 L408.50,289.85 L415.14,291.21 L421.79,292.55 L428.44,293.86 L435.09,295.15 L441.74,296.42 L448.39,297.68 L455.03,298.93 L461.68,300.17 L468.33,301.42 L474.98,302.68 L481.63,303.94 L488.28,305.22 L494.92,306.52 L501.57,307.84 L508.22,309.19 L514.87,310.57 L521.52,311.99 L528.17,313.45 L534.81,314.95 L541.46,316.51 L548.11,318.12 L554.76,319.79 L561.41,321.52 L568.06,323.32 L574.70,325.19 L581.35,327.14 L588.00,329.17" stroke="#d0c870" stroke-width="1.2" fill="none" stroke-dasharray="1.5 2.5" stroke-linejoin="round" stroke-linecap="butt"/>
<path d="M395.20,288.79 L401.85,290.29 L408.50,291.80 L415.14,293.33 L421.79,294.87 L428.44,296.41 L435.09,297.97 L441.74,299.54 L448.39,301.12 L455.03,302.70 L461.68,304.30 L468.33,305.90 L474.98,307.52 L481.63,309.14 L488.28,310.76 L494.92,312.40 L501.57,314.04 L508.22,315.68 L514.87,317.33 L521.52,318.98 L528.17,320.64 L534.81,322.30 L541.46,323.97 L548.11,325.64 L554.76,327.30 L561.41,328.98 L568.06,330.65 L574.70,332.32 L581.35,333.99 L588.00,335.67" stroke="#3030b0" stroke-width="1.5" fill="none" stroke-linejoin="round" stroke-linecap="butt"/>
<path d="M395.20,289.81 L401.85,291.24 L408.50,292.75 L415.14,294.36 L421.79,296.03 L428.44,297.78 L435.09,299.58 L441.74,301.44 L448.39,303.35 L455.03,305.29 L461.68,307.27 L468.33,309.26 L474.98,311.28 L481.63,313.30 L488.28,315.32 L494.92,317.34 L501.57,319.34 L508.22,321.32 L514.87,323.27 L521.52,325.18 L528.17,327.05 L534.81,328.87 L541.46,330.62 L548.11,332.32 L554.76,333.93 L561.41,335.47 L568.06,336.91 L574.70,338.26 L581.35,339.51 L588.00,340.64" stroke="#b040b0" stroke-width="1.6" fill="none" stroke-dasharray="3 3" stroke-linejoin="round" stroke-linecap="butt"/>
<path d="M395.20,293.48 L401.85,295.09 L408.50,296.73 L415.14,298.38 L421.79,300.05 L428.44,301.74 L435.09,303.44 L441.74,305.16 L448.39,306.89 L455.03,308.62 L461.68,310.37 L468.33,312.12 L474.98,313.88 L481.63,315.63 L488.28,317.39 L494.92,319.15 L501.57,320.90 L508.22,322.65 L514.87,324.39 L521.52,326.13 L528.17,327.85 L534.81,329.56 L541.46,331.26 L548.11,332.94 L554.76,334.61 L561.41,336.25 L568.06,337.88 L574.70,339.48 L581.35,341.06 L588.00,342.61" stroke="#c06060" stroke-width="1.2" fill="none" stroke-dasharray="1.3 3" stroke-linejoin="round" stroke-linecap="butt"/>
<path d="M395.20,296.87 L401.85,298.69 L408.50,300.52 L415.14,302.33 L421.79,304.15 L428.44,305.96 L435.09,307.76 L441.74,309.55 L448.39,311.34 L455.03,313.12 L461.68,314.89 L468.33,316.65 L474.98,318.41 L481.63,320.15 L488.28,321.88 L494.92,323.60 L501.57,325.31 L508.22,327.00 L514.87,328.68 L521.52,330.35 L528.17,332.01 L534.81,333.65 L541.46,335.27 L548.11,336.88 L554.76,338.47 L561.41,340.05 L568.06,341.60 L574.70,343.14 L581.35,344.66 L588.00,346.16" stroke="#20a0a0" stroke-width="1.5" fill="none" stroke-dasharray="3 2 1.2 2" stroke-linejoin="round" stroke-linecap="butt"/>
<path d="M395.20,297.78 L401.85,299.74 L408.50,301.71 L415.14,303.69 L421.79,305.67 L428.44,307.66 L435.09,309.63 L441.74,311.60 L448.39,313.55 L455.03,315.49 L461.68,317.40 L468.33,319.29 L474.98,321.16 L481.63,322.98 L488.28,324.78 L494.92,326.53 L501.57,328.23 L508.22,329.89 L514.87,331.49 L521.52,333.04 L528.17,334.52 L534.81,335.94 L541.46,337.29 L548.11,338.57 L554.76,339.77 L561.41,340.89 L568.06,341.92 L574.70,342.87 L581.35,343.72 L588.00,344.48" stroke="#20a040" stroke-width="1.6" fill="none" stroke-dasharray="3 2 1.2 2" stroke-linejoin="round" stroke-linecap="butt"/>
<path d="M395.20,304.12 L401.85,305.92 L408.50,307.74 L415.14,309.56 L421.79,311.40 L428.44,313.23 L435.09,315.08 L441.74,316.92 L448.39,318.77 L455.03,320.62 L461.68,322.47 L468.33,324.32 L474.98,326.17 L481.63,328.01 L488.28,329.85 L494.92,331.68 L501.57,333.50 L508.22,335.32 L514.87,337.12 L521.52,338.92 L528.17,340.70 L534.81,342.46 L541.46,344.21 L548.11,345.95 L554.76,347.67 L561.41,349.37 L568.06,351.04 L574.70,352.70 L581.35,354.33 L588.00,355.94" stroke="#3030d0" stroke-width="1.5" fill="none" stroke-dasharray="1.6 1.9" stroke-linejoin="round" stroke-linecap="butt"/>
<path d="M395.20,308.70 L401.85,311.69 L408.50,314.45 L415.14,317.00 L421.79,319.35 L428.44,321.54 L435.09,323.57 L441.74,325.45 L448.39,327.22 L455.03,328.88 L461.68,330.45 L468.33,331.95 L474.98,333.40 L481.63,334.80 L488.28,336.19 L494.92,337.58 L501.57,338.98 L508.22,340.42 L514.87,341.90 L521.52,343.45 L528.17,345.08 L534.81,346.81 L541.46,348.66 L548.11,350.64 L554.76,352.78 L561.41,355.09 L568.06,357.58 L574.70,360.27 L581.35,363.19 L588.00,366.34" stroke="#ffc8b0" stroke-width="1.1" fill="none" stroke-dasharray="1.3 5" stroke-linejoin="round" stroke-linecap="butt"/>
<path d="M395.20,318.26 L401.85,320.90 L408.50,323.51 L415.14,326.08 L421.79,328.61 L428.44,331.10 L435.09,333.55 L441.74,335.95 L448.39,338.31 L455.03,340.63 L461.68,342.90 L468.33,345.13 L474.98,347.32 L481.63,349.45 L488.28,351.54 L494.92,353.58 L501.57,355.58 L508.22,357.52 L514.87,359.41 L521.52,361.26 L528.17,363.05 L534.81,364.79 L541.46,366.47 L548.11,368.11 L554.76,369.69 L561.41,371.21 L568.06,372.68 L574.70,374.09 L581.35,375.45 L588.00,376.74" stroke="#a040c0" stroke-width="1.6" fill="none" stroke-dasharray="2.2 3.6" stroke-linejoin="round" stroke-linecap="butt"/>
<path d="M395.20,330.95 L401.85,333.67 L408.50,336.34 L415.14,338.96 L421.79,341.53 L428.44,344.06 L435.09,346.53 L441.74,348.96 L448.39,351.33 L455.03,353.66 L461.68,355.93 L468.33,358.15 L474.98,360.32 L481.63,362.44 L488.28,364.50 L494.92,366.52 L501.57,368.48 L508.22,370.38 L514.87,372.24 L521.52,374.03 L528.17,375.78 L534.81,377.47 L541.46,379.10 L548.11,380.68 L554.76,382.21 L561.41,383.67 L568.06,385.08 L574.70,386.44 L581.35,387.74 L588.00,388.98" stroke="#222" stroke-width="1.3" fill="none" stroke-linejoin="round" stroke-linecap="butt"/>
<path d="M395.20,346.22 L401.85,349.29 L408.50,352.27 L415.14,355.16 L421.79,357.95 L428.44,360.65 L435.09,363.25 L441.74,365.77 L448.39,368.19 L455.03,370.53 L461.68,372.78 L468.33,374.94 L474.98,377.01 L481.63,379.00 L488.28,380.90 L494.92,382.71 L501.57,384.45 L508.22,386.10 L514.87,387.67 L521.52,389.16 L528.17,390.57 L534.81,391.90 L541.46,393.16 L548.11,394.34 L554.76,395.44 L561.41,396.46 L568.06,397.41 L574.70,398.29 L581.35,399.10 L588.00,399.83" stroke="#ff3030" stroke-width="1.5" fill="none" stroke-dasharray="4 6.8" stroke-linejoin="round" stroke-linecap="butt"/>
<path d="M395.20,362.11 L401.85,365.70 L408.50,369.12 L415.14,372.37 L421.79,375.47 L428.44,378.40 L435.09,381.18 L441.74,383.81 L448.39,386.30 L455.03,388.64 L461.68,390.84 L468.33,392.90 L474.98,394.83 L481.63,396.63 L488.28,398.30 L494.92,399.86 L501.57,401.29 L508.22,402.61 L514.87,403.82 L521.52,404.92 L528.17,405.91 L534.81,406.80 L541.46,407.60 L548.11,408.30 L554.76,408.92 L561.41,409.44 L568.06,409.89 L574.70,410.25 L581.35,410.54 L588.00,410.75" stroke="#60f060" stroke-width="1.4" fill="none" stroke-dasharray="1.5 4.5" stroke-linejoin="round" stroke-linecap="butt"/>
<path d="M395.20,379.60 L401.85,383.30 L408.50,386.78 L415.14,390.05 L421.79,393.12 L428.44,396.00 L435.09,398.69 L441.74,401.19 L448.39,403.52 L455.03,405.67 L461.68,407.66 L468.33,409.49 L474.98,411.17 L481.63,412.69 L488.28,414.08 L494.92,415.34 L501.57,416.46 L508.22,417.46 L514.87,418.34 L521.52,419.12 L528.17,419.79 L534.81,420.36 L541.46,420.83 L548.11,421.22 L554.76,421.53 L561.41,421.77 L568.06,421.93 L574.70,422.04 L581.35,422.09 L588.00,422.08" stroke="#3040f0" stroke-width="1.5" fill="none" stroke-dasharray="4 2.5 1.3 2.5" stroke-linejoin="round" stroke-linecap="butt"/>
<path d="M395.20,393.63 L401.85,397.53 L408.50,401.15 L415.14,404.52 L421.79,407.64 L428.44,410.51 L435.09,413.16 L441.74,415.58 L448.39,417.79 L455.03,419.80 L461.68,421.62 L468.33,423.25 L474.98,424.71 L481.63,426.01 L488.28,427.16 L494.92,428.16 L501.57,429.03 L508.22,429.77 L514.87,430.40 L521.52,430.93 L528.17,431.36 L534.81,431.71 L541.46,431.98 L548.11,432.19 L554.76,432.34 L561.41,432.45 L568.06,432.52 L574.70,432.56 L581.35,432.59 L588.00,432.61" stroke="#30e0f0" stroke-width="1.5" fill="none" stroke-dasharray="3 2 1.2 2 1.2 2" stroke-linejoin="round" stroke-linecap="butt"/>
<path d="M395.20,407.09 L401.85,410.65 L408.50,413.92 L415.14,416.90 L421.79,419.60 L428.44,422.05 L435.09,424.25 L441.74,426.22 L448.39,427.98 L455.03,429.53 L461.68,430.90 L468.33,432.09 L474.98,433.13 L481.63,434.01 L488.28,434.77 L494.92,435.41 L501.57,435.95 L508.22,436.40 L514.87,436.78 L521.52,437.09 L528.17,437.36 L534.81,437.60 L541.46,437.82 L548.11,438.04 L554.76,438.27 L561.41,438.53 L568.06,438.82 L574.70,439.17 L581.35,439.58 L588.00,440.08" stroke="#ff40ff" stroke-width="1.7" fill="none" stroke-dasharray="1.8 3" stroke-linejoin="round" stroke-linecap="butt"/>
<path d="M395.20,419.01 L401.85,422.15 L408.50,425.00 L415.14,427.57 L421.79,429.87 L428.44,431.93 L435.09,433.75 L441.74,435.35 L448.39,436.75 L455.03,437.96 L461.68,438.99 L468.33,439.86 L474.98,440.59 L481.63,441.19 L488.28,441.67 L494.92,442.05 L501.57,442.35 L508.22,442.57 L514.87,442.74 L521.52,442.87 L528.17,442.97 L534.81,443.06 L541.46,443.15 L548.11,443.26 L554.76,443.40 L561.41,443.58 L568.06,443.83 L574.70,444.16 L581.35,444.58 L588.00,445.10" stroke="#ffffa0" stroke-width="1.2" fill="none" stroke-dasharray="1.5 2" stroke-linejoin="round" stroke-linecap="butt"/>
<path d="M395.20,428.61 L401.85,430.89 L408.50,432.95 L415.14,434.80 L421.79,436.46 L428.44,437.94 L435.09,439.25 L441.74,440.39 L448.39,441.39 L455.03,442.26 L461.68,443.00 L468.33,443.63 L474.98,444.16 L481.63,444.60 L488.28,444.97 L494.92,445.27 L501.57,445.53 L508.22,445.74 L514.87,445.93 L521.52,446.10 L528.17,446.26 L534.81,446.44 L541.46,446.64 L548.11,446.86 L554.76,447.13 L561.41,447.46 L568.06,447.86 L574.70,448.34 L581.35,448.90 L588.00,449.58" stroke="#a0a040" stroke-width="1.5" fill="none" stroke-dasharray="3 2 1.2 2" stroke-linejoin="round" stroke-linecap="butt"/>
<path d="M395.20,431.90 L404.00,437.50 L430.00,442.20 L470.00,447.30 L510.00,450.00 L540.00,451.60 L588.00,453.50" stroke="#3030b0" stroke-width="1.6" fill="none" stroke-linejoin="round" />
<rect x="389.60" y="264.80" width="240.80" height="202.40" stroke="#1a1a1a" stroke-width="1.2" fill="none"/>
<line x1="389.60" y1="467.20" x2="389.60" y2="463.20" stroke="#1a1a1a" stroke-width="1.1" />
<line x1="389.60" y1="264.80" x2="389.60" y2="268.80" stroke="#1a1a1a" stroke-width="1.1" />
<text x="388.60" y="481.10" font-size="12.1" font-weight="bold" text-anchor="middle" fill="#000" >0.1</text>
<line x1="469.90" y1="467.20" x2="469.90" y2="463.20" stroke="#1a1a1a" stroke-width="1.1" />
<line x1="469.90" y1="264.80" x2="469.90" y2="268.80" stroke="#1a1a1a" stroke-width="1.1" />
<text x="469.90" y="481.10" font-size="12.1" font-weight="bold" text-anchor="middle" fill="#000" >1</text>
<line x1="550.20" y1="467.20" x2="550.20" y2="463.20" stroke="#1a1a1a" stroke-width="1.1" />
<line x1="550.20" y1="264.80" x2="550.20" y2="268.80" stroke="#1a1a1a" stroke-width="1.1" />
<text x="550.20" y="481.10" font-size="12.1" font-weight="bold" text-anchor="middle" fill="#000" >10</text>
<line x1="630.50" y1="467.20" x2="630.50" y2="463.20" stroke="#1a1a1a" stroke-width="1.1" />
<line x1="630.50" y1="264.80" x2="630.50" y2="268.80" stroke="#1a1a1a" stroke-width="1.1" />
<text x="630.50" y="481.10" font-size="12.1" font-weight="bold" text-anchor="middle" fill="#000" >100</text>
<line x1="413.77" y1="467.20" x2="413.77" y2="464.90" stroke="#1a1a1a" stroke-width="1.1" />
<line x1="413.77" y1="264.80" x2="413.77" y2="267.10" stroke="#1a1a1a" stroke-width="1.1" />
<line x1="427.91" y1="467.20" x2="427.91" y2="464.90" stroke="#1a1a1a" stroke-width="1.1" />
<line x1="427.91" y1="264.80" x2="427.91" y2="267.10" stroke="#1a1a1a" stroke-width="1.1" />
<line x1="437.95" y1="467.20" x2="437.95" y2="464.90" stroke="#1a1a1a" stroke-width="1.1" />
<line x1="437.95" y1="264.80" x2="437.95" y2="267.10" stroke="#1a1a1a" stroke-width="1.1" />
<line x1="445.73" y1="467.20" x2="445.73" y2="464.90" stroke="#1a1a1a" stroke-width="1.1" />
<line x1="445.73" y1="264.80" x2="445.73" y2="267.10" stroke="#1a1a1a" stroke-width="1.1" />
<line x1="452.09" y1="467.20" x2="452.09" y2="464.90" stroke="#1a1a1a" stroke-width="1.1" />
<line x1="452.09" y1="264.80" x2="452.09" y2="267.10" stroke="#1a1a1a" stroke-width="1.1" />
<line x1="457.46" y1="467.20" x2="457.46" y2="464.90" stroke="#1a1a1a" stroke-width="1.1" />
<line x1="457.46" y1="264.80" x2="457.46" y2="267.10" stroke="#1a1a1a" stroke-width="1.1" />
<line x1="462.12" y1="467.20" x2="462.12" y2="464.90" stroke="#1a1a1a" stroke-width="1.1" />
<line x1="462.12" y1="264.80" x2="462.12" y2="267.10" stroke="#1a1a1a" stroke-width="1.1" />
<line x1="466.23" y1="467.20" x2="466.23" y2="464.90" stroke="#1a1a1a" stroke-width="1.1" />
<line x1="466.23" y1="264.80" x2="466.23" y2="267.10" stroke="#1a1a1a" stroke-width="1.1" />
<line x1="494.07" y1="467.20" x2="494.07" y2="464.90" stroke="#1a1a1a" stroke-width="1.1" />
<line x1="494.07" y1="264.80" x2="494.07" y2="267.10" stroke="#1a1a1a" stroke-width="1.1" />
<line x1="508.21" y1="467.20" x2="508.21" y2="464.90" stroke="#1a1a1a" stroke-width="1.1" />
<line x1="508.21" y1="264.80" x2="508.21" y2="267.10" stroke="#1a1a1a" stroke-width="1.1" />
<line x1="518.25" y1="467.20" x2="518.25" y2="464.90" stroke="#1a1a1a" stroke-width="1.1" />
<line x1="518.25" y1="264.80" x2="518.25" y2="267.10" stroke="#1a1a1a" stroke-width="1.1" />
<line x1="526.03" y1="467.20" x2="526.03" y2="464.90" stroke="#1a1a1a" stroke-width="1.1" />
<line x1="526.03" y1="264.80" x2="526.03" y2="267.10" stroke="#1a1a1a" stroke-width="1.1" />
<line x1="532.39" y1="467.20" x2="532.39" y2="464.90" stroke="#1a1a1a" stroke-width="1.1" />
<line x1="532.39" y1="264.80" x2="532.39" y2="267.10" stroke="#1a1a1a" stroke-width="1.1" />
<line x1="537.76" y1="467.20" x2="537.76" y2="464.90" stroke="#1a1a1a" stroke-width="1.1" />
<line x1="537.76" y1="264.80" x2="537.76" y2="267.10" stroke="#1a1a1a" stroke-width="1.1" />
<line x1="542.42" y1="467.20" x2="542.42" y2="464.90" stroke="#1a1a1a" stroke-width="1.1" />
<line x1="542.42" y1="264.80" x2="542.42" y2="267.10" stroke="#1a1a1a" stroke-width="1.1" />
<line x1="546.53" y1="467.20" x2="546.53" y2="464.90" stroke="#1a1a1a" stroke-width="1.1" />
<line x1="546.53" y1="264.80" x2="546.53" y2="267.10" stroke="#1a1a1a" stroke-width="1.1" />
<line x1="574.37" y1="467.20" x2="574.37" y2="464.90" stroke="#1a1a1a" stroke-width="1.1" />
<line x1="574.37" y1="264.80" x2="574.37" y2="267.10" stroke="#1a1a1a" stroke-width="1.1" />
<line x1="588.51" y1="467.20" x2="588.51" y2="464.90" stroke="#1a1a1a" stroke-width="1.1" />
<line x1="588.51" y1="264.80" x2="588.51" y2="267.10" stroke="#1a1a1a" stroke-width="1.1" />
<line x1="598.55" y1="467.20" x2="598.55" y2="464.90" stroke="#1a1a1a" stroke-width="1.1" />
<line x1="598.55" y1="264.80" x2="598.55" y2="267.10" stroke="#1a1a1a" stroke-width="1.1" />
<line x1="606.33" y1="467.20" x2="606.33" y2="464.90" stroke="#1a1a1a" stroke-width="1.1" />
<line x1="606.33" y1="264.80" x2="606.33" y2="267.10" stroke="#1a1a1a" stroke-width="1.1" />
<line x1="612.69" y1="467.20" x2="612.69" y2="464.90" stroke="#1a1a1a" stroke-width="1.1" />
<line x1="612.69" y1="264.80" x2="612.69" y2="267.10" stroke="#1a1a1a" stroke-width="1.1" />
<line x1="618.06" y1="467.20" x2="618.06" y2="464.90" stroke="#1a1a1a" stroke-width="1.1" />
<line x1="618.06" y1="264.80" x2="618.06" y2="267.10" stroke="#1a1a1a" stroke-width="1.1" />
<line x1="622.72" y1="467.20" x2="622.72" y2="464.90" stroke="#1a1a1a" stroke-width="1.1" />
<line x1="622.72" y1="264.80" x2="622.72" y2="267.10" stroke="#1a1a1a" stroke-width="1.1" />
<line x1="626.83" y1="467.20" x2="626.83" y2="464.90" stroke="#1a1a1a" stroke-width="1.1" />
<line x1="626.83" y1="264.80" x2="626.83" y2="267.10" stroke="#1a1a1a" stroke-width="1.1" />
<line x1="389.60" y1="264.80" x2="393.60" y2="264.80" stroke="#1a1a1a" stroke-width="1.1" />
<line x1="630.40" y1="264.80" x2="626.40" y2="264.80" stroke="#1a1a1a" stroke-width="1.1" />
<text x="380.40" y="269.00" font-size="12.1" font-weight="bold" text-anchor="end" fill="#000" >10</text>
<text x="380.90" y="261.80" font-size="6.6" font-weight="bold" text-anchor="start" fill="#000" >3</text>
<line x1="389.60" y1="344.80" x2="393.60" y2="344.80" stroke="#1a1a1a" stroke-width="1.1" />
<line x1="630.40" y1="344.80" x2="626.40" y2="344.80" stroke="#1a1a1a" stroke-width="1.1" />
<text x="380.40" y="349.00" font-size="12.1" font-weight="bold" text-anchor="end" fill="#000" >10</text>
<text x="380.90" y="341.80" font-size="6.6" font-weight="bold" text-anchor="start" fill="#000" >2</text>
<line x1="389.60" y1="424.80" x2="393.60" y2="424.80" stroke="#1a1a1a" stroke-width="1.1" />
<line x1="630.40" y1="424.80" x2="626.40" y2="424.80" stroke="#1a1a1a" stroke-width="1.1" />
<text x="380.40" y="429.00" font-size="12.1" font-weight="bold" text-anchor="end" fill="#000" >10</text>
<text x="380.90" y="421.80" font-size="6.6" font-weight="bold" text-anchor="start" fill="#000" >1</text>
<line x1="389.60" y1="466.63" x2="391.90" y2="466.63" stroke="#1a1a1a" stroke-width="1.1" />
<line x1="630.40" y1="466.63" x2="628.10" y2="466.63" stroke="#1a1a1a" stroke-width="1.1" />
<line x1="389.60" y1="456.64" x2="391.90" y2="456.64" stroke="#1a1a1a" stroke-width="1.1" />
<line x1="630.40" y1="456.64" x2="628.10" y2="456.64" stroke="#1a1a1a" stroke-width="1.1" />
<line x1="389.60" y1="448.88" x2="391.90" y2="448.88" stroke="#1a1a1a" stroke-width="1.1" />
<line x1="630.40" y1="448.88" x2="628.10" y2="448.88" stroke="#1a1a1a" stroke-width="1.1" />
<line x1="389.60" y1="442.55" x2="391.90" y2="442.55" stroke="#1a1a1a" stroke-width="1.1" />
<line x1="630.40" y1="442.55" x2="628.10" y2="442.55" stroke="#1a1a1a" stroke-width="1.1" />
<line x1="389.60" y1="437.19" x2="391.90" y2="437.19" stroke="#1a1a1a" stroke-width="1.1" />
<line x1="630.40" y1="437.19" x2="628.10" y2="437.19" stroke="#1a1a1a" stroke-width="1.1" />
<line x1="389.60" y1="432.55" x2="391.90" y2="432.55" stroke="#1a1a1a" stroke-width="1.1" />
<line x1="630.40" y1="432.55" x2="628.10" y2="432.55" stroke="#1a1a1a" stroke-width="1.1" />
<line x1="389.60" y1="428.46" x2="391.90" y2="428.46" stroke="#1a1a1a" stroke-width="1.1" />
<line x1="630.40" y1="428.46" x2="628.10" y2="428.46" stroke="#1a1a1a" stroke-width="1.1" />
<line x1="389.60" y1="400.72" x2="391.90" y2="400.72" stroke="#1a1a1a" stroke-width="1.1" />
<line x1="630.40" y1="400.72" x2="628.10" y2="400.72" stroke="#1a1a1a" stroke-width="1.1" />
<line x1="389.60" y1="386.63" x2="391.90" y2="386.63" stroke="#1a1a1a" stroke-width="1.1" />
<line x1="630.40" y1="386.63" x2="628.10" y2="386.63" stroke="#1a1a1a" stroke-width="1.1" />
<line x1="389.60" y1="376.64" x2="391.90" y2="376.64" stroke="#1a1a1a" stroke-width="1.1" />
<line x1="630.40" y1="376.64" x2="628.10" y2="376.64" stroke="#1a1a1a" stroke-width="1.1" />
<line x1="389.60" y1="368.88" x2="391.90" y2="368.88" stroke="#1a1a1a" stroke-width="1.1" />
<line x1="630.40" y1="368.88" x2="628.10" y2="368.88" stroke="#1a1a1a" stroke-width="1.1" />
<line x1="389.60" y1="362.55" x2="391.90" y2="362.55" stroke="#1a1a1a" stroke-width="1.1" />
<line x1="630.40" y1="362.55" x2="628.10" y2="362.55" stroke="#1a1a1a" stroke-width="1.1" />
<line x1="389.60" y1="357.19" x2="391.90" y2="357.19" stroke="#1a1a1a" stroke-width="1.1" />
<line x1="630.40" y1="357.19" x2="628.10" y2="357.19" stroke="#1a1a1a" stroke-width="1.1" />
<line x1="389.60" y1="352.55" x2="391.90" y2="352.55" stroke="#1a1a1a" stroke-width="1.1" />
<line x1="630.40" y1="352.55" x2="628.10" y2="352.55" stroke="#1a1a1a" stroke-width="1.1" />
<line x1="389.60" y1="348.46" x2="391.90" y2="348.46" stroke="#1a1a1a" stroke-width="1.1" />
<line x1="630.40" y1="348.46" x2="628.10" y2="348.46" stroke="#1a1a1a" stroke-width="1.1" />
<line x1="389.60" y1="320.72" x2="391.90" y2="320.72" stroke="#1a1a1a" stroke-width="1.1" />
<line x1="630.40" y1="320.72" x2="628.10" y2="320.72" stroke="#1a1a1a" stroke-width="1.1" />
<line x1="389.60" y1="306.63" x2="391.90" y2="306.63" stroke="#1a1a1a" stroke-width="1.1" />
<line x1="630.40" y1="306.63" x2="628.10" y2="306.63" stroke="#1a1a1a" stroke-width="1.1" />
<line x1="389.60" y1="296.64" x2="391.90" y2="296.64" stroke="#1a1a1a" stroke-width="1.1" />
<line x1="630.40" y1="296.64" x2="628.10" y2="296.64" stroke="#1a1a1a" stroke-width="1.1" />
<line x1="389.60" y1="288.88" x2="391.90" y2="288.88" stroke="#1a1a1a" stroke-width="1.1" />
<line x1="630.40" y1="288.88" x2="628.10" y2="288.88" stroke="#1a1a1a" stroke-width="1.1" />
<line x1="389.60" y1="282.55" x2="391.90" y2="282.55" stroke="#1a1a1a" stroke-width="1.1" />
<line x1="630.40" y1="282.55" x2="628.10" y2="282.55" stroke="#1a1a1a" stroke-width="1.1" />
<line x1="389.60" y1="277.19" x2="391.90" y2="277.19" stroke="#1a1a1a" stroke-width="1.1" />
<line x1="630.40" y1="277.19" x2="628.10" y2="277.19" stroke="#1a1a1a" stroke-width="1.1" />
<line x1="389.60" y1="272.55" x2="391.90" y2="272.55" stroke="#1a1a1a" stroke-width="1.1" />
<line x1="630.40" y1="272.55" x2="628.10" y2="272.55" stroke="#1a1a1a" stroke-width="1.1" />
<line x1="389.60" y1="268.46" x2="391.90" y2="268.46" stroke="#1a1a1a" stroke-width="1.1" />
<line x1="630.40" y1="268.46" x2="628.10" y2="268.46" stroke="#1a1a1a" stroke-width="1.1" />
<text x="510.30" y="495.60" font-size="12.3" font-weight="bold" text-anchor="middle" fill="#000" >Time (min)</text>
<text x="356.20" y="367.30" font-size="12.7" font-weight="bold" text-anchor="middle" fill="#000" transform="rotate(-90 356.20 367.30)" >Relaxed Modulus (MPa)</text>
<text x="329.20" y="273.80" font-size="18.6" font-weight="bold" text-anchor="start" fill="#000" letter-spacing="0.55">(d)</text>
<line x1="596.40" y1="300.80" x2="596.40" y2="449.00" stroke="#1a84e0" stroke-width="1.3" />
<path d="M596.40,454.50 L594.00,448.50 L598.80,448.50 Z" fill="#1a84e0"/>
<text x="602.10" y="377.20" font-size="14.8" font-weight="bold" text-anchor="middle" fill="#000" transform="rotate(90 602.10 377.20)" >From 0°C to 60°C</text>
</svg>
</body></html>
